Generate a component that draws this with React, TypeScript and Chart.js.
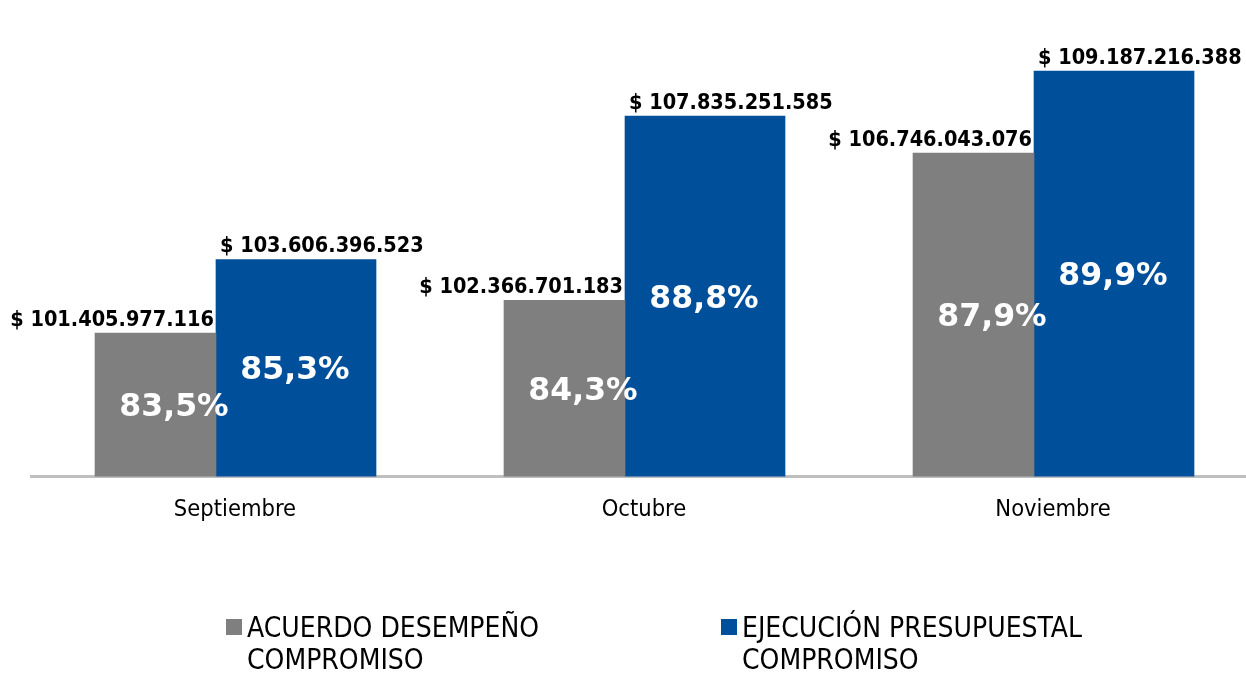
import React, { useEffect, useRef } from 'react';
import { Chart, registerables } from 'chart.js';

Chart.register(...registerables);

const categories = ['Septiembre', 'Octubre', 'Noviembre'];
const acuerdoName = ['ACUERDO DESEMPEÑO', 'COMPROMISO'];
const ejecucionName = ['EJECUCIÓN PRESUPUESTAL', 'COMPROMISO'];
const acuerdoPct = [83.5, 84.3, 87.9];
const ejecucionPct = [85.3, 88.8, 89.9];
const acuerdoValor = [101405977116, 102366701183, 106746043076];
const ejecucionValor = [103606396523, 107835251585, 109187216388];
const grayColor = '#7f7f7f';
const blueColor = '#004f9b';

const COND = '"DejaVu Sans Condensed", "DejaVu Sans", sans-serif';
const BOLD = '"DejaVu Sans", sans-serif';

const fmtMoney = (n: number) => '$ ' + String(n).replace(/\B(?=(\d{3})+(?!\d))/g, '.');
const fmtPct = (v: number) => v.toFixed(1).replace('.', ',') + '%';

const valueLabels = {
  id: 'valueLabels',
  afterDatasetsDraw(chart: any) {
    const ctx = chart.ctx as CanvasRenderingContext2D;
    const money = [acuerdoValor, ejecucionValor];
    const pcts = [acuerdoPct, ejecucionPct];
    const yScale = chart.scales.y;
    const basePx = yScale.getPixelForValue(yScale.min);
    ctx.save();
    for (let di = 0; di < chart.data.datasets.length; di++) {
      const meta = chart.getDatasetMeta(di);
      for (let i = 0; i < meta.data.length; i++) {
        const bar: any = meta.data[i];
        const x = bar.x as number;
        const y = bar.y as number;
        const w = bar.width as number;
        const left = x - w / 2;
        const right = x + w / 2;
        ctx.font = 'bold 21.5px ' + COND;
        ctx.fillStyle = '#000000';
        ctx.textBaseline = 'alphabetic';
        if (di === 0) {
          ctx.textAlign = 'right';
          ctx.fillText(fmtMoney(money[di][i]), right - 2, y - 7);
        } else {
          ctx.textAlign = 'left';
          ctx.fillText(fmtMoney(money[di][i]), left + 4, y - 7);
        }
      }
    }
    for (let di = 0; di < chart.data.datasets.length; di++) {
      const meta = chart.getDatasetMeta(di);
      for (let i = 0; i < meta.data.length; i++) {
        const bar: any = meta.data[i];
        const x = bar.x as number;
        const y = bar.y as number;
        const w = bar.width as number;
        const right = x + w / 2;
        const cx = di === 0 ? right - 42 : x - 1;
        const cy = (y + basePx) / 2 + 3;
        ctx.font = 'bold 31.5px ' + BOLD;
        ctx.fillStyle = '#ffffff';
        ctx.textAlign = 'center';
        ctx.textBaseline = 'middle';
        ctx.fillText(fmtPct(pcts[di][i]), cx, cy);
      }
    }
    ctx.restore();
  },
};

const twoLineLegend = {
  id: 'twoLineLegend',
  afterDraw(chart: any) {
    const ctx = chart.ctx as CanvasRenderingContext2D;
    const names = [acuerdoName, ejecucionName];
    const starts = [226, 721];
    ctx.save();
    chart.data.datasets.forEach((ds: any, di: number) => {
      const bx = starts[di];
      ctx.fillStyle = ds.backgroundColor;
      ctx.fillRect(bx, 619, 16, 16);
      ctx.fillStyle = '#000000';
      ctx.font = '28px ' + COND;
      ctx.textAlign = 'left';
      ctx.textBaseline = 'alphabetic';
      names[di].forEach((line, li) => {
        ctx.fillText(line, bx + 21, 637 + li * 32);
      });
    });
    ctx.restore();
  },
};

export default function App() {
  const ref = useRef<HTMLCanvasElement | null>(null);
  useEffect(() => {
    if (!ref.current) return;
    const chart = new Chart(ref.current, {
      type: 'bar',
      data: {
        datasets: [
          {
            label: acuerdoName.join(' '),
            data: acuerdoPct.map((v, i) => ({ x: i, y: v })),
            backgroundColor: grayColor,
            borderWidth: 0,
            barThickness: 121,
          },
          {
            label: ejecucionName.join(' '),
            data: ejecucionPct.map((v, i) => ({ x: i, y: v })),
            backgroundColor: blueColor,
            borderWidth: 0,
            barThickness: 160,
          },
        ],
      },
      options: {
        responsive: false,
        animation: false,
        devicePixelRatio: 1,
        layout: { padding: { top: 67, left: 31, right: 0, bottom: 136.5 } },
        plugins: {
          legend: { display: false },
          tooltip: { enabled: false },
          title: { display: false },
        },
        scales: {
          x: {
            type: 'linear',
            min: -0.4523,
            max: 2.5183,
            offset: false,
            bounds: 'data',
            grid: { display: false, drawTicks: false },
            border: { display: true, color: '#bfbfbf', width: 3 },
            afterBuildTicks: (s: any) => {
              s.ticks = categories.map((_, i) => ({ value: i }));
            },
            afterFit: (s: any) => {
              s.height = 60;
            },
            ticks: {
              callback: (v: any) => categories[v] ?? '',
              labelOffset: 19,
              padding: 19,
              maxRotation: 0,
              autoSkip: false,
              color: '#000000',
              font: { family: COND, size: 23.5 },
            },
          },
          y: {
            type: 'linear',
            min: 80,
            max: 90,
            display: false,
          },
        },
      } as any,
      plugins: [valueLabels, twoLineLegend],
    });
    return () => chart.destroy();
  }, []);
  return (
    <div style={{ position: 'fixed', left: 0, top: 0, width: 1246, height: 673, background: '#ffffff' }}>
      <canvas ref={ref} width={1246} height={673} style={{ display: 'block' }} />
    </div>
  );
}
